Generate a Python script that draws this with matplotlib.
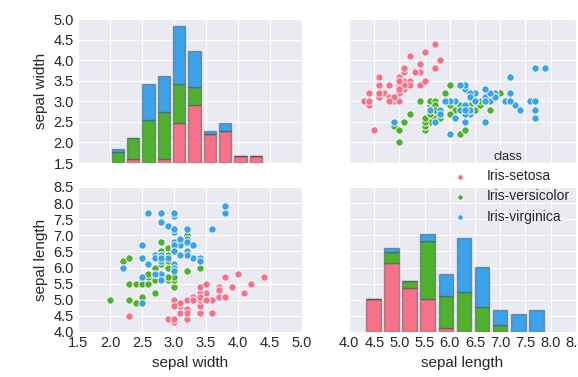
import matplotlib
matplotlib.use("Agg")
import matplotlib.pyplot as plt
import seaborn as sns
import numpy as np

# Iris data (sepal length, sepal width) per class
setosa_length = [5.1,4.9,4.7,4.6,5.0,5.4,4.6,5.0,4.4,4.9,5.4,4.8,4.8,4.3,5.8,5.7,5.4,5.1,5.7,5.1,
                 5.4,5.1,4.6,5.1,4.8,5.0,5.0,5.2,5.2,4.7,4.8,5.4,5.2,5.5,4.9,5.0,5.5,4.9,4.4,5.1,
                 5.0,4.5,4.4,5.0,5.1,4.8,5.1,4.6,5.3,5.0]
setosa_width = [3.5,3.0,3.2,3.1,3.6,3.9,3.4,3.4,2.9,3.1,3.7,3.4,3.0,3.0,4.0,4.4,3.9,3.5,3.8,3.8,
                3.4,3.7,3.6,3.3,3.4,3.0,3.4,3.5,3.4,3.2,3.1,3.4,4.1,4.2,3.1,3.2,3.5,3.1,3.0,3.4,
                3.5,2.3,3.2,3.5,3.8,3.0,3.8,3.2,3.7,3.3]
versicolor_length = [7.0,6.4,6.9,5.5,6.5,5.7,6.3,4.9,6.6,5.2,5.0,5.9,6.0,6.1,5.6,6.7,5.6,5.8,6.2,5.6,
                     5.9,6.1,6.3,6.1,6.4,6.6,6.8,6.7,6.0,5.7,5.5,5.5,5.8,6.0,5.4,6.0,6.7,6.3,5.6,5.5,
                     5.5,6.1,5.8,5.0,5.6,5.7,5.7,6.2,5.1,5.7]
versicolor_width = [3.2,3.2,3.1,2.3,2.8,2.8,3.3,2.4,2.9,2.7,2.0,3.0,2.2,2.9,2.9,3.1,3.0,2.7,2.2,2.5,
                    3.2,2.8,2.5,2.8,2.9,3.0,2.8,3.0,2.9,2.6,2.4,2.4,2.7,2.7,3.0,3.4,3.1,2.3,3.0,2.5,
                    2.6,3.0,2.6,2.3,2.7,3.0,2.9,2.9,2.5,2.8]
virginica_length = [6.3,5.8,7.1,6.3,6.5,7.6,4.9,7.3,6.7,7.2,6.5,6.4,6.8,5.7,5.8,6.4,6.5,7.7,7.7,6.0,
                    6.9,5.6,7.7,6.3,6.7,7.2,6.2,6.1,6.4,7.2,7.4,7.9,6.4,6.3,6.1,7.7,6.3,6.4,6.0,6.9,
                    6.7,6.9,5.8,6.8,6.7,6.7,6.3,6.5,6.2,5.9]
virginica_width = [3.3,2.7,3.0,2.9,3.0,3.0,2.5,2.9,2.5,3.6,3.2,2.7,3.0,2.5,2.8,3.2,3.0,3.8,2.6,2.2,
                   3.2,2.8,2.8,2.7,3.3,3.2,2.8,3.0,2.8,3.0,2.8,3.8,2.8,2.8,2.6,3.0,3.4,3.1,3.0,3.1,
                   3.1,3.1,2.7,3.2,3.3,3.0,2.5,3.0,3.4,3.0]

classes = ["Iris-setosa", "Iris-versicolor", "Iris-virginica"]
lengths = [setosa_length, versicolor_length, virginica_length]
widths = [setosa_width, versicolor_width, virginica_width]

width_ticks = [1.5, 2.0, 2.5, 3.0, 3.5, 4.0, 4.5, 5.0]
length_ticks = [4.0, 4.5, 5.0, 5.5, 6.0, 6.5, 7.0, 7.5, 8.0, 8.5]

sns.set_style("darkgrid")
plt.rcParams['font.family'] = ['Liberation Sans', 'DejaVu Sans']
plt.rcParams['xtick.major.pad'] = 3
plt.rcParams['ytick.major.pad'] = 3
text_color = "#262626"

palette = sns.color_palette("husl", 3)

fig = plt.figure(figsize=(5.78, 3.77), dpi=100)
L1, W1 = 0.135, 0.3875
L2, W2 = 0.604, 0.392
B_top, H_top = 0.5676, 0.382
B_bot, H_bot = 0.1194, 0.3846

ax_tl = fig.add_axes([L1, B_top, W1, H_top])
ax_tr = fig.add_axes([L2, B_top, W2, H_top])
ax_bl = fig.add_axes([L1, B_bot, W1, H_bot])
ax_br = fig.add_axes([L2, B_bot, W2, H_bot])

for ax in [ax_tl, ax_tr, ax_bl, ax_br]:
    ax.tick_params(labelsize=10.5, colors=text_color, length=0)

# diag twin axes sharing y
d1 = ax_tl.twinx()
d2 = ax_br.twinx()
d2.sharey(d1)
for d in (d1, d2):
    d.grid(False)
    d.set_yticks([])
    for s in d.spines.values():
        s.set_visible(False)

d1.hist(widths, bins=10, histtype='barstacked', stacked=True, rwidth=0.8,
        color=palette, edgecolor=(0.25, 0.25, 0.25, 0.45), linewidth=1)
d2.hist(lengths, bins=10, histtype='barstacked', stacked=True, rwidth=0.8,
        color=palette, edgecolor=(0.25, 0.25, 0.25, 0.45), linewidth=1)

# scatter
for c, xl, yw, col in zip(classes, lengths, widths, palette):
    ax_tr.scatter(xl, yw, s=28, color=col, edgecolor='white', linewidth=0.6, label=c, zorder=3)
    ax_bl.scatter(yw, xl, s=28, color=col, edgecolor='white', linewidth=0.6, zorder=3)

for ax in (ax_tl, ax_bl):
    ax.set_xlim(1.5, 5.0)
    ax.set_xticks(width_ticks)
for ax in (ax_tr, ax_br):
    ax.set_xlim(4.0, 8.5)
    ax.set_xticks(length_ticks)
for ax in (ax_tl, ax_tr):
    ax.set_ylim(1.5, 5.0)
    ax.set_yticks(width_ticks)
for ax in (ax_bl, ax_br):
    ax.set_ylim(4.0, 8.5)
    ax.set_yticks(length_ticks)

ax_tl.set_xticklabels([])
ax_tr.set_xticklabels([])
ax_tr.set_yticklabels([])
ax_br.set_yticklabels([])

ax_tl.set_ylabel("sepal width", fontsize=11, color=text_color)
ax_bl.set_ylabel("sepal length", fontsize=11, color=text_color)
ax_bl.set_xlabel("sepal width", fontsize=11, color=text_color)
ax_br.set_xlabel("sepal length", fontsize=11, color=text_color)

handles, labels = ax_tr.get_legend_handles_labels()
leg = fig.legend(handles, labels, title="class", loc='center left',
                 bbox_to_anchor=(0.75, 0.503), frameon=False, fontsize=10,
                 title_fontsize=9, markerscale=0.75, handletextpad=0.9,
                 labelspacing=0.45)
for t in leg.get_texts():
    t.set_color(text_color)
leg.get_title().set_color(text_color)

fig.savefig("out.png", dpi=100)
